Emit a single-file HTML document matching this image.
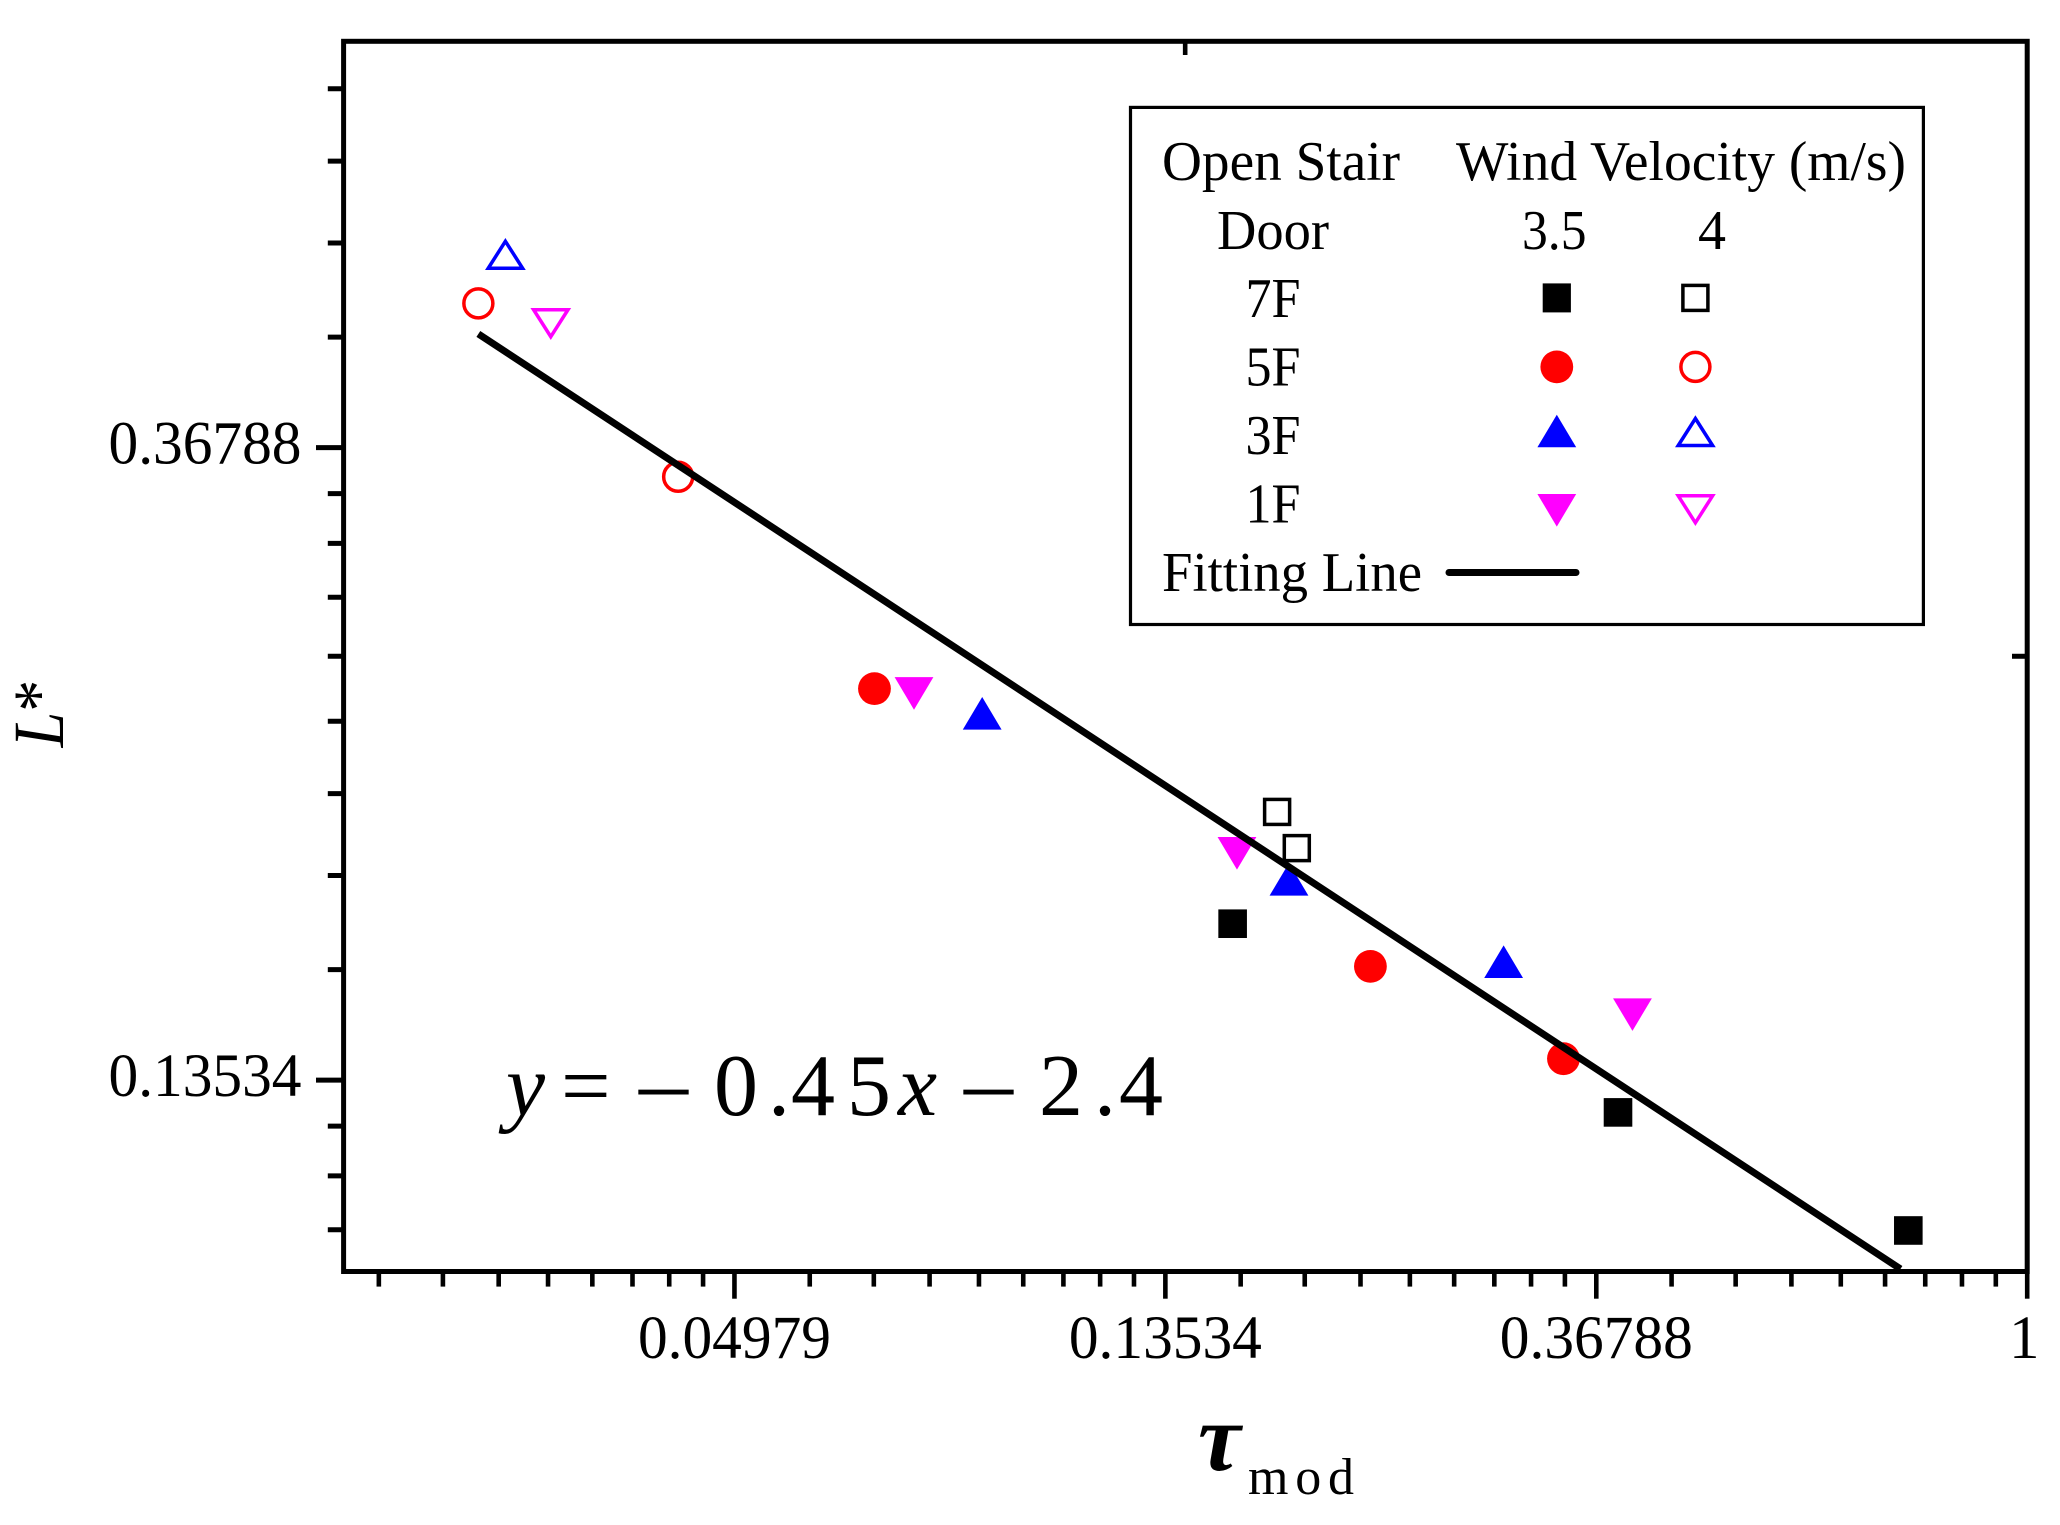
<!DOCTYPE html>
<html lang="en">
<head>
<meta charset="utf-8">
<title>L* versus tau mod</title>
<style>
html,body{margin:0;padding:0;background:#fff;}
svg{display:block;}
text{font-family:"Liberation Serif","Times New Roman",serif;fill:#000;}
</style>
</head>
<body>
<svg id="chart" xmlns="http://www.w3.org/2000/svg" width="2060" height="1525" viewBox="0 0 2060 1525">
  <rect x="0" y="0" width="2060" height="1525" fill="#fff"/>
  <g id="ticks"></g>
  <g id="marks"></g>
  <g id="fit"></g>
  <rect x="343.6" y="41.3" width="1683.6" height="1230.2" fill="none" stroke="#000" stroke-width="5"/>
  <g id="tick-labels"></g>

  <text transform="translate(63 747.4) rotate(-90) scale(1 1.12)" font-size="64"><tspan font-style="italic">L</tspan><tspan>*</tspan></text>
  <text x="1198" y="1470" font-size="96" font-style="italic" font-weight="bold">τ</text>
  <text x="1248" y="1494" font-size="52" textLength="106" lengthAdjust="spacing">mod</text>

  <text y="1114.8" font-size="88"><tspan x="506" font-style="italic">y</tspan><tspan x="561">=</tspan><tspan x="639" font-size="98">–</tspan><tspan x="714">0</tspan><tspan x="768">.</tspan><tspan x="791">4</tspan><tspan x="847">5</tspan><tspan x="898" font-style="italic">x</tspan><tspan x="964" font-size="98">–</tspan><tspan x="1039">2</tspan><tspan x="1094">.</tspan><tspan x="1119">4</tspan></text>

  <g>
    <rect x="1130.5" y="107.4" width="792.9" height="517.1" fill="#fff" stroke="#000" stroke-width="3.2"/>
    <g font-size="56">
      <text x="1162" y="179.8" textLength="238" lengthAdjust="spacingAndGlyphs">Open Stair</text>
      <text x="1456" y="179.8" textLength="450" lengthAdjust="spacingAndGlyphs">Wind Velocity (m/s)</text>
      <text x="1217" y="248.8" textLength="112" lengthAdjust="spacingAndGlyphs">Door</text>
      <text x="1522" y="248.8" textLength="64.5" lengthAdjust="spacingAndGlyphs">3.5</text>
      <text x="1698" y="248.8">4</text>
      <text x="1245.5" y="316.9" textLength="55" lengthAdjust="spacingAndGlyphs">7F</text>
      <text x="1245.5" y="385.4" textLength="55" lengthAdjust="spacingAndGlyphs">5F</text>
      <text x="1245.5" y="453.9" textLength="55" lengthAdjust="spacingAndGlyphs">3F</text>
      <text x="1245.5" y="522.4" textLength="55" lengthAdjust="spacingAndGlyphs">1F</text>
      <text x="1162" y="591" textLength="260" lengthAdjust="spacingAndGlyphs">Fitting Line</text>
    </g>
    <line x1="1449" y1="572.5" x2="1576" y2="572.5" stroke="#000" stroke-width="7" stroke-linecap="round"/>
    <rect x="1542.7" y="283.4" width="28.2" height="29" fill="#000"/>
    <rect x="1682.9" y="285.4" width="25" height="25" fill="none" stroke="#000" stroke-width="3.5"/>
    <circle cx="1556.8" cy="366.9" r="16.4" fill="#f00"/>
    <circle cx="1695.4" cy="366.9" r="14.5" fill="none" stroke="#f00" stroke-width="3.5"/>
    <polygon points="1556.8,414.7 1576.2,447.3 1537.4,447.3" fill="#00f"/>
    <polygon points="1695.4,418.5 1712.6,445.5 1678.2,445.5" fill="none" stroke="#00f" stroke-width="3.5"/>
    <polygon points="1537.4,494 1576.2,494 1556.8,526.6" fill="#f0f"/>
    <polygon points="1678.2,495.8 1712.6,495.8 1695.4,522.8" fill="none" stroke="#f0f" stroke-width="3.5"/>
  </g>

<script>
// Axis domains (log-scaled, base e)
const xDomain = [0.0201, 1];
const yDomain = [0.1, 0.6993];

// Tick values and labels
const xMajorTicks = [0.049787, 0.135335, 0.367879, 1];
const xTickLabels = ['0.04979', '0.13534', '0.36788', '1'];
const xDecades = [0.018316, 0.049787, 0.135335, 0.367879, 1];
const yMajorTicks = [0.367879, 0.135335];
const yTickLabels = ['0.36788', '0.13534'];
const yDecades = [0.049787, 0.135335, 0.367879, 1];
const topTicks = [0.1417];
const rightTicks = [0.2645];

// Series values: tau_mod and L*
const tau7F35 = [0.1582, 0.3869, 0.7589];
const lum7F35 = [0.1733, 0.1286, 0.1067];
const tau7F40 = [0.1754, 0.1836];
const lum7F40 = [0.2068, 0.1953];
const tau5F35 = [0.0689, 0.2178, 0.3409];
const lum5F35 = [0.2513, 0.1620, 0.1400];
const tau5F40 = [0.02748, 0.04369];
const lum5F40 = [0.4621, 0.3513];
const tau3F35 = [0.08847, 0.1803, 0.2967];
const lum3F35 = [0.2417, 0.1859, 0.1632];
const tau3F40 = [0.02926];
const lum3F40 = [0.4990];
const tau1F35 = [0.07552, 0.1598, 0.4001];
const lum1F35 = [0.2494, 0.1937, 0.1501];
const tau1F40 = [0.03251];
const lum1F40 = [0.4478];

// Fitting line endpoints
const fitTau = [0.02748, 0.7452];
const fitLum = [0.4403, 0.1004];

const NS = 'http://www.w3.org/2000/svg';
const plotLeft = 343.6, plotRight = 2027.2, plotTop = 41.3, plotBottom = 1271.5;

function xScale(v) {
  const a = Math.log(xDomain[0]), b = Math.log(xDomain[1]);
  return plotLeft + (Math.log(v) - a) / (b - a) * (plotRight - plotLeft);
}
function yScale(v) {
  const a = Math.log(yDomain[0]), b = Math.log(yDomain[1]);
  return plotBottom - (Math.log(v) - a) / (b - a) * (plotBottom - plotTop);
}
function make(tag, attrs, parent) {
  const el = document.createElementNS(NS, tag);
  Object.keys(attrs).forEach(function (k) { el.setAttribute(k, attrs[k]); });
  parent.appendChild(el);
  return el;
}
function minors(decades, lo, hi) {
  const out = [];
  for (let i = 0; i < decades.length - 1; i++) {
    const step = (decades[i + 1] - decades[i]) / 9;
    for (let k = 1; k < 9; k++) {
      const v = decades[i] + step * k;
      if (v > lo && v < hi) out.push(v);
    }
  }
  return out;
}

const tickLayer = document.getElementById('ticks');
const labelLayer = document.getElementById('tick-labels');
const markLayer = document.getElementById('marks');
const fitLayer = document.getElementById('fit');

minors(xDecades, xDomain[0], xDomain[1]).forEach(function (v) {
  const el = make('line', {x1: xScale(v), x2: xScale(v), y1: plotBottom, y2: 1286.6, stroke: '#000', 'stroke-width': 4.6}, tickLayer);
  
  
});
xMajorTicks.forEach(function (v, i) {
  const el = make('line', {x1: xScale(v), x2: xScale(v), y1: plotBottom, y2: 1298.7, stroke: '#000', 'stroke-width': 4.6}, tickLayer);
  
  
  const label = xTickLabels[i];
  const attrs = {x: xScale(v) + (label === '1' ? -3 : 0), y: 1358, 'font-size': 61, 'text-anchor': 'middle'};
  if (label.length > 1) { attrs.textLength = 193; attrs.lengthAdjust = 'spacingAndGlyphs'; }
  const t = make('text', attrs, labelLayer);
  t.textContent = label;
  
  
});
minors(yDecades, yDomain[0], yDomain[1]).forEach(function (v) {
  const el = make('line', {x1: 327.8, x2: plotLeft, y1: yScale(v), y2: yScale(v), stroke: '#000', 'stroke-width': 5}, tickLayer);
  
  
});
yMajorTicks.forEach(function (v, i) {
  const el = make('line', {x1: 316, x2: plotLeft, y1: yScale(v), y2: yScale(v), stroke: '#000', 'stroke-width': 5}, tickLayer);
  
  
  const t = make('text', {x: 108.5, y: yScale(v) + 16, 'font-size': 61, textLength: 193, lengthAdjust: 'spacingAndGlyphs'}, labelLayer);
  t.textContent = yTickLabels[i];
  
  
});
topTicks.forEach(function (v) {
  const el = make('line', {x1: xScale(v), x2: xScale(v), y1: plotTop, y2: 55, stroke: '#000', 'stroke-width': 4.6}, tickLayer);
  
  
});
rightTicks.forEach(function (v) {
  const el = make('line', {x1: 2012, x2: plotRight, y1: yScale(v), y2: yScale(v), stroke: '#000', 'stroke-width': 5}, tickLayer);
  
  
});

function drawMarker(kind, color, filled, cx, cy) {
  const sw = filled ? 0 : 3.5;
  const paint = {fill: filled ? color : 'none', stroke: filled ? 'none' : color, 'stroke-width': sw};
  if (kind === 'square') {
    const s = filled ? 28.6 : 25;
    return make('rect', Object.assign({x: cx - s / 2, y: cy - s / 2, width: s, height: s}, paint), markLayer);
  }
  if (kind === 'circle') {
    return make('circle', Object.assign({cx: cx, cy: cy, r: filled ? 16.4 : 14.5}, paint), markLayer);
  }
  const hw = filled ? 19.4 : 17.2;
  const hh = filled ? 16.3 : 13.5;
  const dir = kind === 'up' ? 1 : -1;
  const pts = [cx, cy - dir * hh, cx + hw, cy + dir * hh, cx - hw, cy + dir * hh].join(' ');
  return make('polygon', Object.assign({points: pts}, paint), markLayer);
}

function drawSeries(taus, lums, kind, color, filled, name) {
  taus.forEach(function (t, i) {
    const el = drawMarker(kind, color, filled, xScale(t), yScale(lums[i]));
    
    
  });
}

drawSeries(tau7F35, lum7F35, 'square', '#000', true, 'point-7f-3-5');
drawSeries(tau7F40, lum7F40, 'square', '#000', false, 'point-7f-4');
drawSeries(tau5F35, lum5F35, 'circle', '#f00', true, 'point-5f-3-5');
drawSeries(tau5F40, lum5F40, 'circle', '#f00', false, 'point-5f-4');
drawSeries(tau3F35, lum3F35, 'up', '#00f', true, 'point-3f-3-5');
drawSeries(tau3F40, lum3F40, 'up', '#00f', false, 'point-3f-4');
drawSeries(tau1F35, lum1F35, 'down', '#f0f', true, 'point-1f-3-5');
drawSeries(tau1F40, lum1F40, 'down', '#f0f', false, 'point-1f-4');

const fitLine = make('polyline', {
  points: fitTau.map(function (t, i) { return xScale(t) + ',' + yScale(fitLum[i]); }).join(' '),
  fill: 'none', stroke: '#000', 'stroke-width': 7
}, fitLayer);


</script>
</svg>
</body>
</html>
